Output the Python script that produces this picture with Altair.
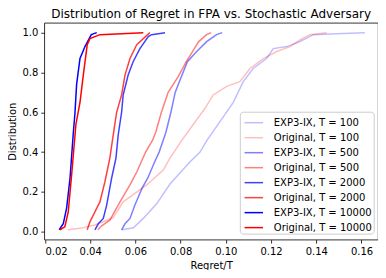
import altair as alt
import pandas as pd

series_names = [
    "EXP3-IX, T = 100", "Original, T = 100",
    "EXP3-IX, T = 500", "Original, T = 500",
    "EXP3-IX, T = 2000", "Original, T = 2000",
    "EXP3-IX, T = 10000", "Original, T = 10000",
]

colors = [
    "rgba(0,0,255,0.25)", "rgba(255,0,0,0.25)",
    "rgba(0,0,255,0.5)", "rgba(255,0,0,0.5)",
    "rgba(0,0,255,0.75)", "rgba(255,0,0,0.75)",
    "rgba(0,0,255,1)", "rgba(255,0,0,1)",
]

# EXP3-IX, T = 100
exp_100_x = [0.0539, 0.0591, 0.0635, 0.0694, 0.0753, 0.0841, 0.0886, 0.0917, 0.0974, 0.1033,
             0.1077, 0.1121, 0.1180, 0.1210, 0.1269, 0.1328, 0.1387, 0.1490, 0.1615]
exp_100_p = [0.01, 0.02, 0.067, 0.14, 0.24, 0.35, 0.40, 0.46, 0.553, 0.65,
             0.754, 0.82, 0.87, 0.92, 0.93, 0.955, 0.99, 0.995, 1.0]

# Original, T = 100
orig_100_x = [0.0300, 0.0355, 0.0421, 0.0501, 0.0546, 0.0650, 0.0723, 0.0753, 0.0806, 0.0863,
              0.0908, 0.0944, 0.1004, 0.1062, 0.1107, 0.1166, 0.1225, 0.1284, 0.1328, 0.1372, 0.1446]
orig_100_p = [0.01, 0.017, 0.034, 0.07, 0.15, 0.235, 0.31, 0.37, 0.46, 0.55,
              0.62, 0.687, 0.73, 0.754, 0.82, 0.87, 0.905, 0.93, 0.963, 0.99, 1.0]

# EXP3-IX, T = 500
exp_500_x = [0.0539, 0.0554, 0.0576, 0.0598, 0.0630, 0.0655, 0.0685, 0.0705, 0.0723, 0.0735,
             0.0757, 0.0776, 0.0800, 0.0830, 0.0871, 0.0915, 0.0959, 0.0984]
exp_500_p = [0.01, 0.04, 0.067, 0.134, 0.22, 0.27, 0.35, 0.40, 0.46, 0.50,
             0.60, 0.70, 0.77, 0.854, 0.905, 0.955, 0.99, 1.0]

# Original, T = 500
orig_500_x = [0.0434, 0.0451, 0.0487, 0.0532, 0.0576, 0.0606, 0.0645, 0.0676, 0.0690, 0.0715,
              0.0745, 0.0790, 0.0825, 0.0850, 0.0880, 0.0915, 0.0935]
orig_500_p = [0.01, 0.03, 0.058, 0.15, 0.235, 0.30, 0.40, 0.46, 0.50, 0.60,
              0.70, 0.78, 0.854, 0.90, 0.955, 0.99, 1.0]

# EXP3-IX, T = 2000
exp_2000_x = [0.0421, 0.0436, 0.0458, 0.0473, 0.0495, 0.0514, 0.0524, 0.0539, 0.0546, 0.0568,
              0.0590, 0.0620, 0.0657, 0.0672, 0.0731]
exp_2000_p = [0.01, 0.04, 0.067, 0.134, 0.27, 0.37, 0.486, 0.60, 0.687, 0.787,
              0.854, 0.92, 0.98, 0.99, 1.0]

# Original, T = 2000
orig_2000_x = [0.0387, 0.0399, 0.0421, 0.0443, 0.0465, 0.0487, 0.0502, 0.0517, 0.0539, 0.0554,
               0.0576, 0.0606, 0.0635, 0.0664]
orig_2000_p = [0.01, 0.05, 0.10, 0.15, 0.25, 0.37, 0.486, 0.60, 0.687, 0.787,
               0.87, 0.94, 0.97, 1.0]

# EXP3-IX, T = 10000
exp_10000_x = [0.0263, 0.0281, 0.0296, 0.0311, 0.0325, 0.0333, 0.0340, 0.0355, 0.0377, 0.0405, 0.0429]
exp_10000_p = [0.01, 0.04, 0.12, 0.27, 0.49, 0.60, 0.74, 0.87, 0.93, 0.99, 1.0]

# Original, T = 10000
orig_10000_x = [0.0266, 0.0288, 0.0303, 0.0318, 0.0337, 0.0355, 0.0370, 0.0387, 0.0399, 0.0443, 0.0635]
orig_10000_p = [0.01, 0.025, 0.10, 0.285, 0.54, 0.65, 0.79, 0.94, 0.97, 0.99, 1.0]

x_lists = [exp_100_x, orig_100_x, exp_500_x, orig_500_x,
           exp_2000_x, orig_2000_x, exp_10000_x, orig_10000_x]
p_lists = [exp_100_p, orig_100_p, exp_500_p, orig_500_p,
           exp_2000_p, orig_2000_p, exp_10000_p, orig_10000_p]

x_ticks = [0.02, 0.04, 0.06, 0.08, 0.10, 0.12, 0.14, 0.16]
y_ticks = [0.0, 0.2, 0.4, 0.6, 0.8, 1.0]

rows = []
for name, xs, ps in zip(series_names, x_lists, p_lists):
    for i, (xv, pv) in enumerate(zip(xs, ps)):
        rows.append({"series": name, "x": xv, "p": pv, "i": i})
df = pd.DataFrame(rows)

FONT = "DejaVu Sans"

chart = alt.Chart(df).mark_line(strokeWidth=1.5, clip=True).encode(
    x=alt.X("x:Q",
            scale=alt.Scale(domain=[0.0197, 0.1673], nice=False, zero=False),
            axis=alt.Axis(values=x_ticks, format=".2f", title="Regret/T")),
    y=alt.Y("p:Q",
            scale=alt.Scale(domain=[-0.0395, 1.0495], nice=False, zero=False),
            axis=alt.Axis(values=y_ticks, format=".1f", title="Distribution")),
    color=alt.Color("series:N",
                    scale=alt.Scale(domain=series_names, range=colors),
                    legend=alt.Legend(title=None, orient="none", legendX=195.7, legendY=89,
                                      symbolType="stroke", symbolSize=342, symbolStrokeWidth=1.5,
                                      symbolOffset=3,
                                      labelFont=FONT, labelFontSize=10, labelColor="black",
                                      fillColor="rgba(255,255,255,0.8)", strokeColor="#cccccc",
                                      cornerRadius=3, padding=1, rowPadding=0, labelOffset=10,
                                      labelLimit=200)),
    order=alt.Order("i:Q"),
).properties(
    width=334,
    height=217,
    title=alt.TitleParams("Distribution of Regret in FPA vs. Stochastic Adversary",
                          font=FONT, fontSize=12, fontWeight="normal", color="black",
                          anchor="middle", offset=2),
    autosize=alt.AutoSizeParams(type="none"),
    padding={"left": 36.3, "top": 14.7, "right": 0, "bottom": 30},
).configure_view(
    stroke="black", strokeWidth=0.8
).configure_axis(
    domain=False, grid=False, ticks=True, tickColor="black", tickWidth=0.8, tickSize=3.5,
    labelFont=FONT, labelFontSize=10, labelColor="black", labelPadding=3,
    titleFont=FONT, titleFontSize=10, titleFontWeight="normal", titleColor="black",
    titlePadding=4,
)

chart.save("out.html", embed_options={"renderer": "svg", "actions": False})
